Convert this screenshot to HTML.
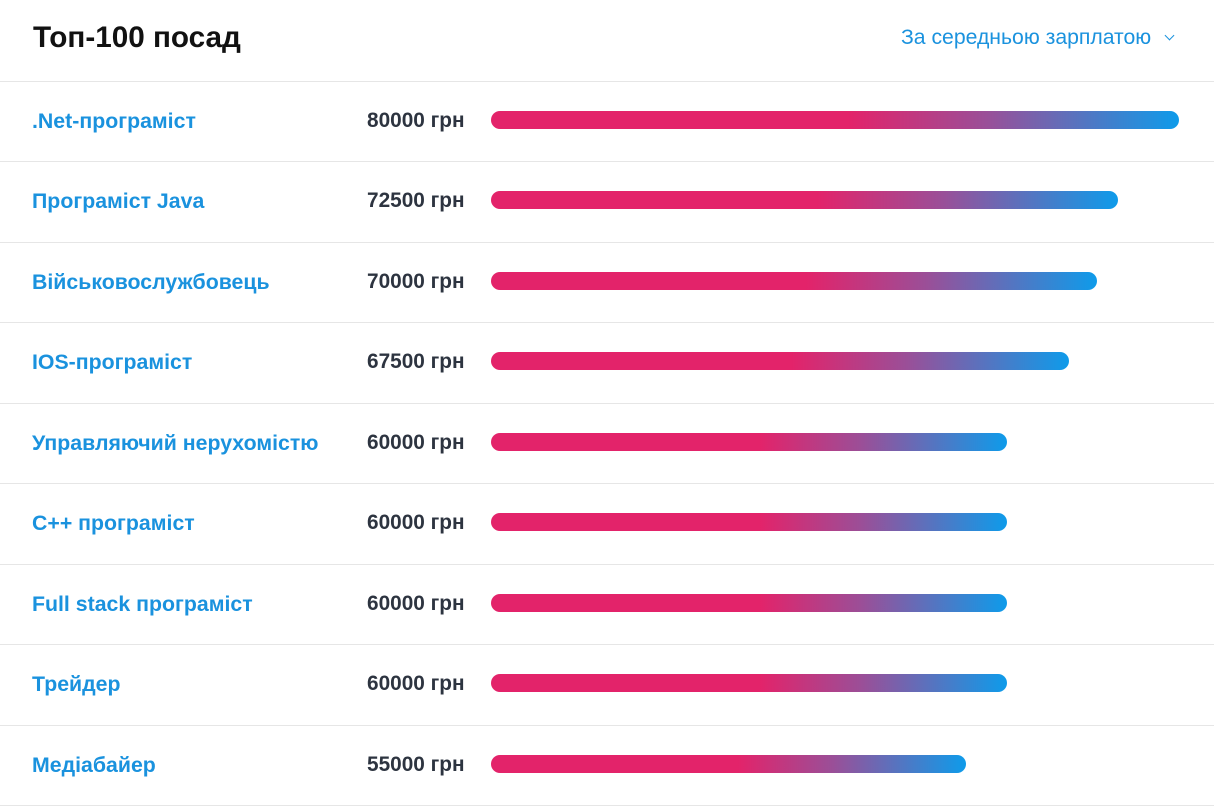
<!DOCTYPE html>
<html><head><meta charset="utf-8"><style>
body{margin:0;width:1214px;height:806px;background:#fff;font-family:"Liberation Sans",Arial,sans-serif;position:relative;overflow:hidden}
.t{position:absolute;left:33px;top:21px;font-size:29.7px;font-weight:bold;color:#111}
.s{position:absolute;left:901px;top:26px;font-size:21.2px;color:#1a92de}
.ch{position:absolute;left:1166px;top:32px;width:6px;height:6px;border-right:1.5px solid #1a92de;border-bottom:1.5px solid #1a92de;transform:rotate(45deg)}
.ln{position:absolute;left:0;width:1214px;height:1px;background:#e6e6e6}
.n{position:absolute;left:32px;font-size:21.3px;font-weight:bold;color:#1a92de}
.v{position:absolute;left:367px;font-size:20.8px;font-weight:bold;color:#2d3440}
.b{position:absolute;left:491px;height:18px;border-radius:9px;background:linear-gradient(90deg,#e3236a 0%,#e3236a 52%,#9a4f98 72%,#0e9bea 100%)}
</style></head><body>
<div class="t">Топ-100 посад</div>
<div class="s">За середньою зарплатою</div><div class="ch"></div>
<div class="ln" style="top:81px"></div>
<div class="n" style="top:109px">.Net-програміст</div><div class="v" style="top:109px">80000 грн</div><div class="b" style="top:111px;width:688px"></div>
<div class="ln" style="top:161px"></div>
<div class="n" style="top:189px">Програміст Java</div><div class="v" style="top:189px">72500 грн</div><div class="b" style="top:191px;width:627px"></div>
<div class="ln" style="top:242px"></div>
<div class="n" style="top:270px">Військовослужбовець</div><div class="v" style="top:270px">70000 грн</div><div class="b" style="top:272px;width:606px"></div>
<div class="ln" style="top:322px"></div>
<div class="n" style="top:350px">IOS-програміст</div><div class="v" style="top:350px">67500 грн</div><div class="b" style="top:352px;width:578px"></div>
<div class="ln" style="top:403px"></div>
<div class="n" style="top:431px">Управляючий нерухомістю</div><div class="v" style="top:431px">60000 грн</div><div class="b" style="top:433px;width:516px"></div>
<div class="ln" style="top:483px"></div>
<div class="n" style="top:511px">C++ програміст</div><div class="v" style="top:511px">60000 грн</div><div class="b" style="top:513px;width:516px"></div>
<div class="ln" style="top:564px"></div>
<div class="n" style="top:592px">Full stack програміст</div><div class="v" style="top:592px">60000 грн</div><div class="b" style="top:594px;width:516px"></div>
<div class="ln" style="top:644px"></div>
<div class="n" style="top:672px">Трейдер</div><div class="v" style="top:672px">60000 грн</div><div class="b" style="top:674px;width:516px"></div>
<div class="ln" style="top:725px"></div>
<div class="n" style="top:753px">Медіабайер</div><div class="v" style="top:753px">55000 грн</div><div class="b" style="top:755px;width:475px"></div>
<div class="ln" style="top:805px"></div>
</body></html>
